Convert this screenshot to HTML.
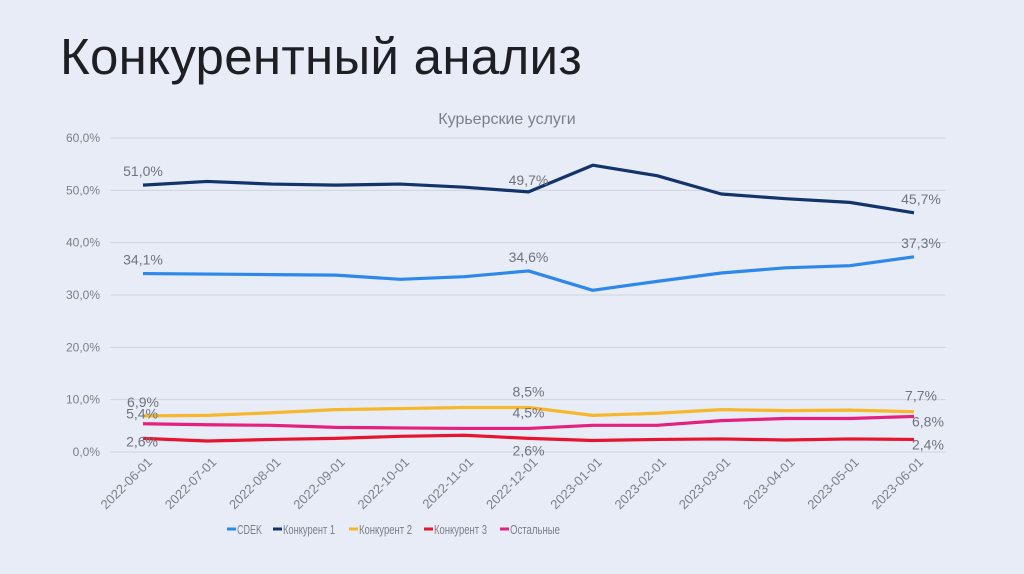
<!DOCTYPE html>
<html><head><meta charset="utf-8">
<style>
html,body{margin:0;padding:0;background:#e7ecf6;}
body{width:1024px;height:574px;overflow:hidden;position:relative;font-family:"Liberation Sans",sans-serif;}
h1{position:absolute;left:60px;top:27px;margin:0;font-weight:normal;font-size:51px;color:#1d1f24;letter-spacing:0.3px;}
svg{position:absolute;left:0;top:0;}
</style></head>
<body>
<h1>Конкурентный анализ</h1>
<svg id="chart" width="1024" height="574"></svg>
<script>
const categories=["2022-06-01","2022-07-01","2022-08-01","2022-09-01","2022-10-01","2022-11-01","2022-12-01","2023-01-01","2023-02-01","2023-03-01","2023-04-01","2023-05-01","2023-06-01"];
const cdek=[34.1,34.0,33.9,33.8,33.0,33.5,34.6,30.9,32.6,34.2,35.2,35.6,37.3];
const comp1=[51.0,51.7,51.2,51.0,51.2,50.6,49.7,54.8,52.8,49.3,48.4,47.7,45.7];
const comp2=[6.9,7.0,7.5,8.1,8.3,8.5,8.5,7.0,7.4,8.1,7.9,8.0,7.7];
const comp3=[2.6,2.1,2.4,2.6,3.0,3.2,2.6,2.2,2.4,2.5,2.3,2.5,2.4];
const others=[5.4,5.2,5.1,4.7,4.6,4.5,4.5,5.1,5.1,6.0,6.4,6.4,6.8];
const yTicks=[0,10,20,30,40,50,60];
const seriesNames=["CDEK","Конкурент 1","Конкурент 2","Конкурент 3","Остальные"];
const ns="http://www.w3.org/2000/svg";
const svg=document.getElementById('chart');
const X0=143,X1=914,Y0=452,Y1=138;
const x=i=>X0+(X1-X0)*i/(categories.length-1);
const y=v=>Y0-(Y0-Y1)*v/60;
const fmt=v=>v.toFixed(1).replace('.',',')+'%';
function mk(tag,attrs,parent){const e=document.createElementNS(ns,tag);for(const k in attrs)e.setAttribute(k,attrs[k]);(parent||svg).appendChild(e);return e;}
const t=mk('text',{x:507,y:124,'text-anchor':'middle','font-size':16,fill:'#7b7f88'});


t.textContent='Курьерские услуги';
yTicks.forEach(v=>{
  const g=mk('line',{x1:110,x2:946,y1:y(v),y2:y(v),stroke:'#cfd3dc','stroke-width':1});
  
  
  const l=mk('text',{x:100,y:y(v)+4,'text-anchor':'end','font-size':12,fill:'#7b7f88'});
  
  
  l.textContent=v.toFixed(1).replace('.',',')+'%';
});
categories.forEach((c,i)=>{
  const l=mk('text',{x:0,y:0,'text-anchor':'end','font-size':13,fill:'#7b7f88',transform:`translate(${x(i)+10},${463}) rotate(-45)`});
  
  
  l.textContent=c;
});
const series=[
 {d:comp2,c:'#f6b72c',lab:[[0,-9,'middle'],[6,-11,'middle'],[12,-11,'middle']]},
 {d:others,c:'#e5207e',lab:[[0,-5,'end2'],[6,-11,'middle'],[12,10,'start']]},
 {d:comp3,c:'#e8142f',lab:[[0,8,'end2'],[6,17,'middle'],[12,10,'start']]},
 {d:cdek,c:'#2e88ec',lab:[[0,-9,'middle'],[6,-9,'middle'],[12,-9,'middle']]},
 {d:comp1,c:'#13336b',lab:[[0,-9,'middle'],[6,-7,'middle'],[12,-9,'middle']]}
];
series.forEach((s,si)=>{
  const p=mk('polyline',{points:s.d.map((v,i)=>x(i)+','+y(v)).join(' '),fill:'none',stroke:s.c,'stroke-width':3.2,'stroke-linejoin':'round'});
  
  
  s.lab.forEach(([i,dy,a])=>{
    let xx=x(i),anc=a;
    if(a==='end2'){xx=x(i)+15;anc='end';}
    if(a==='start'){xx=x(i)-2;}
    if(i===12&&a==='middle')xx=x(i)+7;
    const l=mk('text',{x:xx,y:y(s.d[i])+dy,'text-anchor':anc,'font-size':14,fill:'#6f737c'});
    
    
    l.textContent=fmt(s.d[i]);
  });
});
const legendColors=['#2e88ec','#13336b','#f6b72c','#e8142f','#e5207e'];
const legendX=[227,273,349,424,500];
const legendW=[25,52,53,53,50];
seriesNames.forEach((n,i)=>{
  const g=mk('g',{});
  
  
  mk('line',{x1:legendX[i],x2:legendX[i]+9,y1:529,y2:529,stroke:legendColors[i],'stroke-width':3},g);
  const l=mk('text',{x:legendX[i]+10,y:534,'font-size':13,fill:'#7b7f88',textLength:legendW[i],lengthAdjust:'spacingAndGlyphs'},g);
  l.textContent=n;
});
</script>
</body></html>
